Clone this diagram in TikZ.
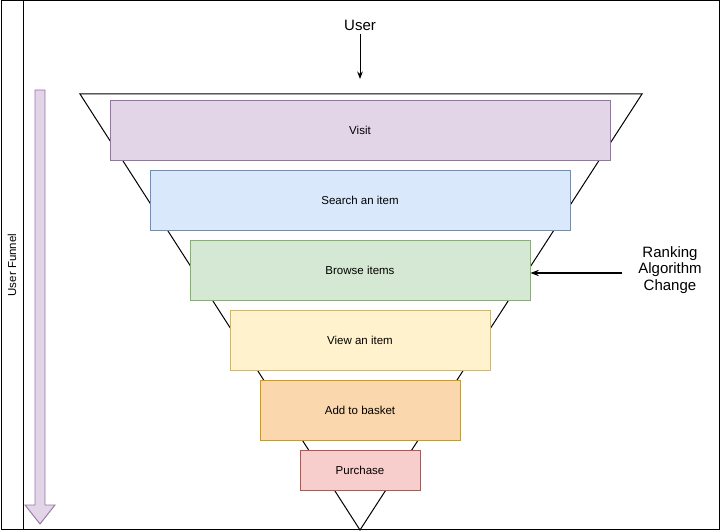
\documentclass[tikz,border=0pt]{standalone}
\usepackage{fontspec}
\setmainfont{Liberation Sans}
\usetikzlibrary{arrows.meta}

\definecolor{visitfill}{HTML}{E1D5E7}
\definecolor{visitline}{HTML}{9673A6}
\definecolor{searchfill}{HTML}{DAE8FC}
\definecolor{searchline}{HTML}{6C8EBF}
\definecolor{browsefill}{HTML}{D5E8D4}
\definecolor{browseline}{HTML}{82B366}
\definecolor{viewfill}{HTML}{FFF2CC}
\definecolor{viewline}{HTML}{D6B656}
\definecolor{basketfill}{HTML}{FAD7AC}
\definecolor{basketline}{HTML}{D79B00}
\definecolor{buyfill}{HTML}{F8CECC}
\definecolor{buyline}{HTML}{B85450}

\begin{document}
\begin{tikzpicture}[x=1pt, y=-1pt,
						every path/.style={>=Stealth},
						stage/.style={rectangle, draw, line width=0.9pt, inner sep=0pt,
							minimum height=60pt, font=\fontsize{11.5}{13}\selectfont},
						note/.style={font=\fontsize{15}{16.5}\selectfont, align=center}]
					\useasboundingbox (0,0) rectangle (722,532);
					% frame and lane
					\draw[line width=1pt] (1,1) rectangle (719,529);
					\draw[line width=1pt] (23,1) -- (23,529);
					\node[font=\fontsize{11.5}{13}\selectfont, rotate=90] (lane) at (12,265) {User Funnel};
					% funnel arrow
					\draw[fill=visitfill, draw=visitline, line width=0.9pt]
						(35,90) -- (45,90) -- (45,505) -- (55,505) -- (40,524)
						-- (25,505) -- (35,505) -- cycle;

					% funnel
					\coordinate (F1) at (80,94);
					\coordinate (F2) at (642,94);
					\coordinate (F3) at (360,530);
					\draw[line width=1pt] (F1) -- (F2) -- (F3) -- cycle;

					\node[stage, fill=visitfill, draw=visitline, minimum width=500pt] (visit) at (360,130) {Visit};
					\node[stage, fill=searchfill, draw=searchline, minimum width=420pt] (search) at (360,200) {Search an item};
					\node[stage, fill=browsefill, draw=browseline, minimum width=340pt] (browse) at (360,270) {Browse items};
					\node[stage, fill=viewfill, draw=viewline, minimum width=260pt] (view) at (360,340) {View an item};
					\node[stage, fill=basketfill, draw=basketline, minimum width=200pt] (basket) at (360,410) {Add to basket};
					\node[stage, fill=buyfill, draw=buyline, minimum width=120pt, minimum height=40pt] (buy) at (360,470) {Purchase};

					% labels
					\node[note] (user) at (360,25) {User};
					\coordinate (userend) at (360,79);
					\path [->, line width=1pt] (user) edge (userend);

					\node[note] (rank) at (670,270) {Ranking\\Algorithm\\Change};
					\coordinate (rankstart) at (622,273);
					\path [->, line width=1.2pt] (rankstart) edge (browse.east |- rankstart);
				\end{tikzpicture}
\end{document}
